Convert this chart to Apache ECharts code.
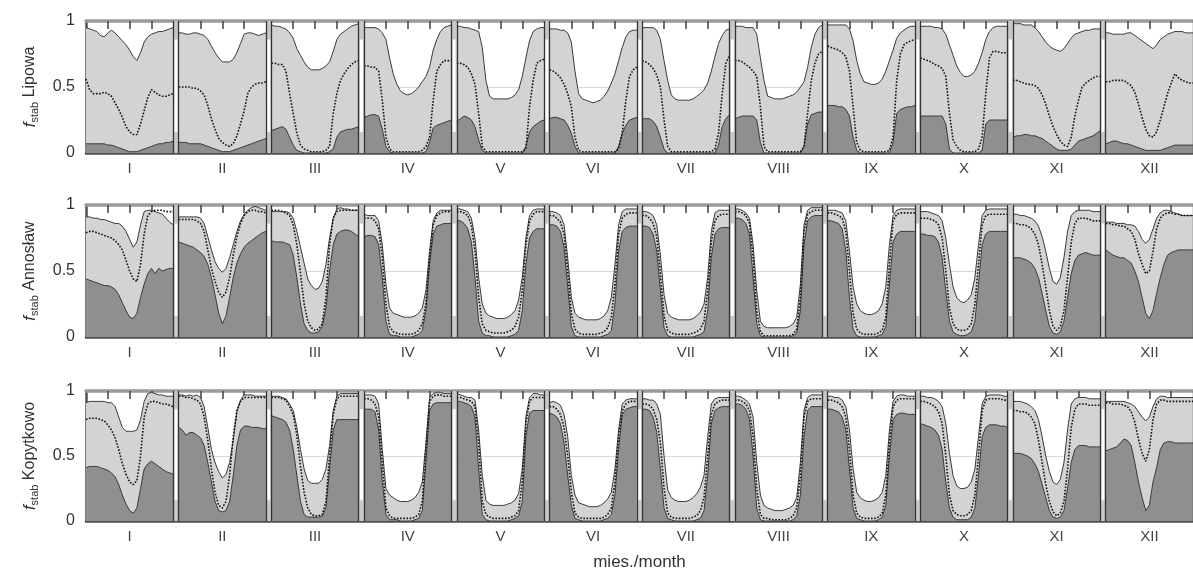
<!DOCTYPE html>
<html>
<head>
<meta charset="utf-8">
<script src="https://cdn.jsdelivr.net/npm/echarts@6/dist/echarts.min.js"></script>
<style>
  html, body { margin: 0; padding: 0; background: #fff; }
  #chart { width: 1193px; height: 572px; }
</style>
</head>
<body>
<div id="chart"></div>
<script>
// Month labels and the hours of the diurnal cycle drawn inside each month block
const months = ['I', 'II', 'III', 'IV', 'V', 'VI', 'VII', 'VIII', 'IX', 'X', 'XI', 'XII'];
const hours = [0, 1, 2, 3, 4, 5, 6, 7, 8, 9, 10, 11, 12, 13, 14, 15, 16, 17, 18, 19, 20, 21, 22, 23, 24];
const hourTicks = [6, 12, 18];
const stations = ['Lipowa', 'Annosław', 'Kopytkowo'];
const yTicks = [0, 0.5, 1];

// Lipowa: upper bound (light band top), dotted curve, lower bound (dark band top)
const lipowaUpper = [
  [.95,.94,.93,.92,.89,.88,.91,.93,.91,.88,.85,.82,.78,.73,.70,.76,.84,.88,.90,.91,.92,.92,.93,.94,.95],
  [.91,.91,.90,.90,.91,.91,.90,.89,.86,.81,.76,.72,.69,.69,.69,.71,.76,.83,.90,.91,.91,.90,.89,.90,.91],
  [.97,.96,.96,.95,.94,.91,.87,.79,.74,.69,.65,.63,.63,.63,.64,.66,.69,.77,.86,.90,.92,.94,.96,.97,.98],
  [.95,.95,.95,.95,.94,.91,.86,.72,.60,.52,.47,.45,.44,.45,.47,.50,.54,.58,.65,.78,.86,.92,.95,.96,.97],
  [.96,.96,.95,.95,.94,.93,.92,.80,.55,.43,.41,.41,.41,.41,.41,.42,.44,.48,.58,.72,.85,.92,.94,.95,.95],
  [.94,.94,.94,.93,.93,.91,.84,.62,.45,.41,.40,.39,.38,.39,.40,.43,.47,.53,.60,.70,.80,.88,.92,.93,.93],
  [.95,.95,.95,.95,.93,.86,.70,.55,.44,.41,.40,.40,.40,.40,.41,.43,.45,.48,.53,.62,.73,.83,.89,.93,.94],
  [.96,.96,.96,.95,.95,.95,.90,.72,.55,.43,.42,.41,.41,.41,.42,.43,.44,.46,.50,.54,.65,.80,.90,.95,.97],
  [.97,.97,.97,.97,.97,.97,.94,.85,.70,.60,.54,.53,.52,.52,.53,.56,.62,.70,.78,.87,.91,.93,.95,.96,.96],
  [.96,.96,.96,.96,.95,.95,.94,.90,.82,.74,.66,.61,.58,.58,.59,.62,.68,.76,.86,.92,.95,.96,.96,.96,.96],
  [.98,.98,.98,.97,.97,.97,.95,.92,.88,.84,.81,.79,.78,.77,.79,.83,.87,.90,.91,.92,.93,.93,.94,.94,.94],
  [.91,.91,.90,.90,.90,.90,.91,.91,.89,.87,.85,.83,.81,.79,.82,.86,.88,.90,.91,.92,.92,.92,.91,.91,.91]
];
const lipowaMid = [
  [.56,.48,.45,.45,.45,.46,.45,.43,.38,.33,.27,.20,.16,.14,.14,.22,.32,.42,.48,.46,.44,.43,.43,.44,.45],
  [.50,.50,.50,.50,.49,.49,.47,.44,.36,.26,.18,.11,.08,.06,.05,.07,.13,.22,.32,.45,.50,.52,.53,.53,.54],
  [.68,.68,.67,.67,.62,.45,.30,.15,.06,.03,.02,.01,.01,.01,.01,.02,.05,.30,.45,.55,.60,.64,.67,.69,.70],
  [.66,.66,.65,.65,.62,.40,.12,.03,.01,.01,.01,.01,.01,.01,.01,.01,.02,.05,.12,.40,.62,.67,.70,.70,.70],
  [.68,.68,.67,.65,.60,.52,.30,.05,.01,.01,.01,.01,.01,.01,.01,.01,.01,.01,.01,.03,.35,.55,.68,.70,.71],
  [.63,.62,.60,.57,.52,.45,.35,.12,.02,.01,.01,.01,.01,.01,.01,.01,.01,.01,.01,.03,.15,.40,.58,.63,.65],
  [.70,.69,.67,.64,.59,.50,.25,.05,.01,.01,.01,.01,.01,.01,.01,.01,.01,.01,.01,.01,.03,.15,.45,.68,.74],
  [.70,.70,.69,.67,.65,.62,.58,.35,.05,.01,.01,.01,.01,.01,.01,.01,.01,.01,.01,.05,.30,.55,.68,.75,.77],
  [.81,.80,.79,.78,.76,.73,.62,.35,.08,.02,.01,.01,.01,.01,.01,.01,.01,.02,.12,.55,.75,.82,.84,.85,.86],
  [.72,.71,.70,.69,.67,.66,.64,.58,.30,.10,.05,.02,.01,.01,.01,.01,.03,.12,.45,.72,.77,.77,.76,.76,.76],
  [.55,.55,.54,.53,.52,.52,.51,.49,.44,.37,.28,.20,.14,.09,.06,.05,.12,.28,.40,.50,.53,.55,.57,.58,.58],
  [.54,.54,.55,.55,.55,.55,.53,.51,.46,.37,.27,.18,.13,.12,.16,.25,.35,.45,.53,.60,.57,.55,.54,.53,.53]
];
const lipowaLower = [
  [.07,.07,.07,.07,.07,.07,.06,.06,.05,.04,.03,.02,.01,.01,.01,.02,.03,.04,.05,.06,.07,.07,.08,.08,.09],
  [.08,.08,.08,.07,.07,.07,.07,.06,.05,.04,.03,.02,.01,.01,.01,.02,.03,.04,.05,.06,.07,.08,.09,.10,.11],
  [.17,.18,.19,.20,.18,.12,.06,.02,.01,0,0,0,0,0,0,0,.01,.03,.12,.16,.17,.18,.18,.19,.20],
  [.27,.28,.29,.29,.28,.18,.05,.01,0,0,0,0,0,0,0,0,0,.01,.08,.19,.21,.22,.23,.24,.25],
  [.24,.26,.28,.27,.25,.20,.10,.02,0,0,0,0,0,0,0,0,0,0,0,.05,.16,.20,.22,.24,.25],
  [.26,.27,.27,.26,.25,.21,.15,.05,0,0,0,0,0,0,0,0,0,0,0,.05,.15,.21,.25,.26,.27],
  [.26,.26,.26,.24,.20,.12,.03,0,0,0,0,0,0,0,0,0,0,0,0,0,0,.06,.20,.26,.29],
  [.26,.27,.28,.28,.28,.28,.25,.08,0,0,0,0,0,0,0,0,0,0,0,.05,.22,.29,.30,.31,.31],
  [.36,.36,.36,.35,.35,.33,.28,.12,.02,0,0,0,0,0,0,0,0,0,.08,.30,.33,.34,.35,.35,.36],
  [.28,.28,.28,.28,.28,.28,.28,.22,.03,0,0,0,0,0,0,0,0,.02,.22,.25,.25,.25,.25,.25,.25],
  [.12,.13,.13,.14,.14,.13,.13,.12,.11,.09,.07,.05,.03,.02,.02,.02,.03,.06,.09,.10,.11,.12,.13,.15,.17],
  [.07,.08,.09,.09,.08,.07,.07,.06,.05,.04,.03,.02,.02,.02,.02,.02,.03,.04,.05,.06,.06,.06,.06,.06,.06]
];

// Annosław
const annoslawUpper = [
  [.91,.91,.90,.90,.89,.89,.88,.87,.86,.86,.84,.80,.74,.68,.72,.85,.95,.96,.96,.95,.94,.93,.90,.87,.85],
  [.91,.91,.91,.91,.91,.91,.90,.86,.76,.66,.57,.52,.49,.52,.60,.70,.80,.88,.93,.96,.98,.99,.98,.97,.96],
  [.95,.95,.95,.95,.95,.94,.90,.80,.68,.56,.44,.39,.36,.37,.42,.55,.75,.90,.97,.98,.97,.97,.96,.96,.96],
  [.93,.92,.92,.92,.88,.70,.40,.22,.18,.17,.16,.15,.15,.15,.16,.18,.22,.35,.65,.88,.94,.96,.96,.96,.96],
  [.97,.97,.96,.95,.90,.75,.45,.25,.18,.16,.15,.14,.14,.14,.15,.17,.20,.28,.45,.75,.92,.96,.97,.97,.97],
  [.95,.95,.94,.92,.85,.60,.30,.18,.15,.14,.13,.13,.13,.13,.14,.16,.20,.30,.55,.85,.95,.97,.97,.97,.97],
  [.95,.95,.94,.92,.85,.62,.32,.18,.15,.14,.13,.13,.13,.13,.14,.16,.19,.25,.45,.80,.94,.96,.96,.96,.96],
  [.97,.97,.96,.94,.90,.70,.35,.12,.08,.07,.07,.07,.07,.07,.07,.08,.10,.15,.40,.85,.96,.98,.98,.98,.98],
  [.96,.96,.96,.95,.94,.88,.65,.38,.25,.20,.18,.17,.17,.18,.20,.25,.38,.70,.92,.96,.97,.97,.97,.97,.97],
  [.95,.95,.95,.94,.93,.92,.88,.75,.55,.38,.30,.27,.26,.28,.32,.45,.70,.92,.96,.97,.97,.97,.97,.97,.97],
  [.93,.93,.92,.92,.91,.90,.88,.84,.76,.65,.52,.42,.40,.45,.60,.80,.92,.95,.96,.96,.96,.96,.95,.95,.95],
  [.87,.87,.87,.86,.86,.86,.85,.85,.84,.80,.74,.71,.74,.82,.90,.94,.96,.96,.95,.94,.93,.92,.92,.92,.92]
];
const annoslawMid = [
  [.79,.80,.80,.79,.78,.77,.76,.75,.73,.70,.66,.58,.50,.44,.42,.55,.78,.92,.95,.96,.96,.96,.95,.95,.95],
  [.89,.89,.89,.89,.89,.88,.86,.80,.66,.52,.42,.34,.30,.34,.45,.62,.76,.86,.92,.95,.96,.96,.95,.95,.94],
  [.96,.96,.96,.95,.94,.92,.85,.70,.48,.25,.12,.07,.05,.06,.10,.30,.70,.90,.95,.96,.96,.96,.96,.96,.96],
  [.90,.90,.90,.88,.82,.60,.25,.08,.04,.03,.02,.02,.02,.02,.03,.05,.10,.25,.60,.85,.92,.94,.95,.95,.95],
  [.95,.95,.94,.92,.85,.65,.30,.10,.05,.04,.03,.03,.03,.03,.04,.05,.08,.15,.35,.70,.88,.93,.95,.95,.95],
  [.92,.92,.90,.87,.78,.50,.18,.06,.03,.02,.02,.02,.02,.02,.03,.04,.07,.15,.40,.78,.90,.93,.94,.94,.94],
  [.92,.92,.90,.86,.76,.48,.16,.05,.03,.02,.02,.02,.02,.02,.03,.04,.06,.12,.35,.72,.88,.92,.93,.93,.93],
  [.95,.95,.94,.92,.86,.60,.20,.04,.01,.01,.01,.01,.01,.01,.01,.01,.02,.06,.30,.80,.93,.95,.96,.96,.96],
  [.94,.94,.93,.92,.90,.80,.50,.18,.06,.03,.02,.02,.02,.02,.03,.05,.15,.55,.88,.93,.94,.94,.94,.94,.94],
  [.90,.90,.90,.89,.88,.85,.75,.50,.22,.10,.06,.05,.05,.06,.10,.25,.55,.85,.92,.93,.93,.93,.93,.93,.93],
  [.86,.86,.85,.85,.84,.82,.78,.70,.55,.38,.20,.08,.05,.08,.20,.45,.72,.86,.90,.90,.90,.89,.88,.88,.88],
  [.86,.86,.85,.85,.84,.84,.82,.80,.74,.63,.55,.48,.50,.65,.82,.90,.93,.94,.94,.93,.93,.92,.92,.92,.92]
];
const annoslawLower = [
  [.44,.43,.42,.41,.40,.39,.39,.38,.36,.32,.26,.20,.15,.14,.18,.30,.40,.48,.52,.48,.52,.50,.51,.52,.52],
  [.72,.71,.70,.69,.68,.66,.64,.61,.55,.45,.32,.18,.10,.16,.30,.45,.56,.63,.68,.71,.73,.75,.77,.79,.80],
  [.73,.72,.72,.72,.71,.70,.62,.45,.25,.10,.05,.03,.03,.04,.08,.22,.50,.70,.78,.80,.81,.81,.80,.78,.76],
  [.76,.77,.77,.76,.70,.45,.12,.02,.01,.01,0,0,0,0,.01,.02,.05,.20,.55,.78,.84,.85,.86,.86,.86],
  [.88,.88,.86,.82,.72,.45,.12,.03,.01,.01,0,0,0,0,0,.01,.02,.05,.20,.55,.75,.80,.82,.82,.82],
  [.85,.85,.84,.80,.68,.38,.08,.01,0,0,0,0,0,0,0,.01,.02,.05,.25,.65,.80,.83,.84,.84,.84],
  [.84,.84,.83,.78,.65,.35,.07,.01,0,0,0,0,0,0,0,.01,.02,.04,.20,.60,.78,.82,.83,.83,.83],
  [.90,.90,.89,.86,.78,.45,.10,.01,0,0,0,0,0,0,0,0,.01,.03,.20,.70,.88,.91,.92,.92,.92],
  [.88,.88,.87,.86,.82,.65,.30,.06,.01,0,0,0,0,0,.01,.02,.08,.40,.72,.78,.80,.80,.80,.80,.80],
  [.78,.78,.77,.77,.76,.72,.60,.35,.12,.04,.02,.01,.01,.02,.04,.12,.40,.70,.78,.80,.80,.80,.80,.80,.80],
  [.60,.60,.60,.59,.58,.56,.52,.45,.33,.20,.08,.03,.02,.04,.12,.30,.48,.58,.62,.63,.64,.63,.62,.62,.62],
  [.66,.64,.62,.61,.60,.60,.58,.56,.50,.42,.30,.18,.14,.20,.33,.45,.55,.62,.64,.65,.66,.66,.66,.66,.66]
];

// Kopytkowo
const kopytkowoUpper = [
  [.91,.92,.92,.92,.92,.92,.91,.91,.88,.80,.72,.69,.69,.69,.70,.78,.92,.98,.99,.98,.97,.97,.96,.96,.96],
  [.97,.97,.96,.97,.96,.97,.95,.88,.72,.55,.45,.38,.33,.36,.45,.62,.84,.93,.97,.97,.97,.96,.96,.96,.96],
  [.96,.96,.96,.95,.94,.90,.85,.72,.55,.40,.31,.29,.29,.29,.32,.40,.58,.85,.96,.98,.98,.98,.98,.98,.98],
  [.97,.97,.97,.96,.90,.55,.25,.20,.18,.16,.15,.15,.15,.16,.18,.22,.30,.60,.95,.98,.99,.99,.98,.98,.98],
  [.98,.97,.96,.95,.95,.93,.70,.35,.16,.13,.12,.12,.12,.12,.13,.14,.16,.21,.40,.80,.95,.98,.98,.97,.97],
  [.91,.92,.91,.89,.82,.65,.35,.20,.14,.13,.12,.11,.11,.11,.12,.14,.17,.22,.40,.70,.90,.93,.94,.94,.94],
  [.94,.94,.93,.93,.90,.82,.50,.24,.18,.16,.15,.15,.15,.16,.18,.21,.26,.35,.65,.90,.94,.95,.95,.95,.95],
  [.96,.96,.95,.93,.90,.80,.45,.20,.12,.10,.09,.08,.08,.08,.09,.10,.12,.18,.45,.85,.95,.97,.97,.97,.97],
  [.96,.96,.95,.95,.93,.88,.70,.40,.22,.18,.16,.15,.15,.16,.18,.22,.35,.70,.92,.96,.97,.97,.96,.96,.96],
  [.96,.96,.95,.95,.94,.92,.88,.75,.52,.35,.27,.25,.25,.26,.30,.40,.65,.90,.96,.97,.97,.97,.97,.96,.96],
  [.92,.92,.92,.91,.90,.88,.85,.78,.65,.50,.38,.30,.28,.32,.45,.70,.90,.94,.95,.95,.95,.94,.94,.94,.94],
  [.92,.92,.92,.92,.92,.92,.91,.90,.88,.84,.80,.77,.80,.88,.94,.96,.96,.95,.95,.95,.95,.95,.95,.95,.95]
];
const kopytkowoMid = [
  [.78,.79,.79,.79,.78,.77,.74,.70,.64,.55,.44,.36,.30,.28,.31,.50,.80,.90,.92,.92,.91,.90,.90,.89,.88],
  [.96,.96,.95,.95,.94,.93,.90,.80,.62,.40,.22,.12,.10,.15,.35,.65,.85,.92,.95,.95,.95,.95,.95,.95,.95],
  [.95,.95,.95,.94,.93,.88,.82,.66,.42,.22,.10,.05,.04,.04,.05,.15,.50,.82,.94,.96,.96,.96,.96,.96,.96],
  [.94,.94,.93,.90,.80,.45,.10,.04,.02,.02,.02,.02,.02,.02,.03,.05,.15,.55,.92,.96,.97,.97,.96,.96,.96],
  [.95,.95,.94,.93,.92,.88,.60,.15,.05,.03,.02,.02,.02,.02,.02,.03,.04,.08,.30,.75,.92,.95,.95,.95,.95],
  [.88,.88,.86,.82,.72,.50,.22,.06,.03,.02,.02,.02,.02,.02,.02,.03,.05,.10,.30,.65,.85,.90,.92,.92,.92],
  [.90,.90,.89,.86,.78,.60,.25,.06,.03,.02,.02,.02,.02,.02,.03,.04,.08,.18,.50,.82,.90,.92,.93,.93,.93],
  [.93,.93,.92,.90,.85,.65,.25,.05,.02,.02,.01,.01,.01,.01,.01,.02,.04,.10,.35,.80,.92,.94,.94,.94,.94],
  [.93,.93,.92,.91,.88,.80,.55,.20,.06,.03,.02,.02,.02,.02,.03,.06,.20,.60,.88,.93,.94,.94,.94,.94,.94],
  [.92,.92,.91,.90,.88,.84,.75,.50,.20,.08,.05,.04,.04,.05,.08,.20,.50,.85,.93,.94,.94,.94,.94,.93,.93],
  [.85,.85,.84,.84,.83,.80,.75,.62,.45,.28,.15,.07,.04,.06,.15,.40,.72,.86,.90,.90,.90,.89,.89,.89,.89],
  [.91,.91,.90,.90,.90,.89,.88,.84,.76,.63,.52,.46,.55,.78,.90,.93,.93,.92,.92,.92,.92,.92,.92,.92,.92]
];
const kopytkowoLower = [
  [.41,.42,.42,.42,.41,.40,.39,.37,.34,.28,.20,.13,.08,.06,.10,.25,.40,.44,.46,.44,.42,.40,.38,.37,.36],
  [.72,.70,.66,.68,.68,.66,.64,.58,.45,.30,.15,.08,.07,.08,.15,.35,.58,.70,.73,.73,.72,.72,.72,.71,.71],
  [.81,.80,.79,.78,.76,.70,.55,.35,.15,.05,.03,.03,.03,.03,.04,.10,.40,.70,.78,.78,.78,.78,.78,.78,.78],
  [.86,.86,.86,.84,.70,.30,.05,.01,.01,.01,0,0,0,0,.01,.02,.08,.45,.85,.90,.91,.91,.91,.91,.91],
  [.92,.92,.91,.90,.88,.80,.40,.05,.01,0,0,0,0,0,0,.01,.02,.04,.15,.65,.83,.85,.85,.85,.85],
  [.83,.82,.80,.75,.60,.35,.12,.02,.01,0,0,0,0,0,0,.01,.02,.05,.20,.55,.82,.86,.87,.88,.88],
  [.86,.86,.85,.80,.68,.40,.10,.02,.01,0,0,0,0,0,0,.01,.02,.08,.35,.75,.85,.87,.88,.88,.88],
  [.90,.90,.89,.86,.78,.50,.10,.01,0,0,0,0,0,0,0,0,.01,.04,.20,.65,.85,.88,.88,.88,.88],
  [.86,.86,.85,.84,.80,.70,.40,.10,.02,.01,0,0,0,0,.01,.03,.12,.50,.78,.82,.83,.83,.82,.82,.82],
  [.75,.74,.73,.72,.70,.66,.55,.30,.10,.03,.01,.01,.01,.01,.03,.10,.35,.65,.72,.74,.74,.74,.73,.73,.72],
  [.52,.52,.52,.51,.50,.48,.44,.38,.28,.18,.08,.03,.02,.03,.08,.25,.45,.55,.58,.58,.58,.57,.57,.57,.57],
  [.54,.55,.56,.57,.60,.63,.62,.58,.45,.30,.18,.08,.12,.30,.41,.55,.60,.61,.61,.60,.60,.60,.60,.60,.60]
];

const panels = [
  { upper: lipowaUpper, mid: lipowaMid, lower: lipowaLower, top: 21, height: 132 },
  { upper: annoslawUpper, mid: annoslawMid, lower: annoslawLower, top: 205, height: 132 },
  { upper: kopytkowoUpper, mid: kopytkowoMid, lower: kopytkowoLower, top: 391, height: 133 }
];

// Each month block is 24 h wide, separated by a short gap on the shared x scale
const GAP = 1.5;
const PERIOD = 24 + GAP;
const XMAX = 11 * PERIOD + 24;
const FONT = '"Liberation Sans", Arial, sans-serif';

const LIGHT = '#d3d3d3';
const DARK = '#8f8f8f';
const EDGE = '#3a3a3a';

function curve(rows) {
  const out = [];
  rows.forEach((row, k) => {
    row.forEach((v, i) => out.push([k * PERIOD + hours[i], v]));
    out.push([k * PERIOD + 24 + GAP / 2, '-']);
  });
  return out;
}

const tickVals = [];
months.forEach((m, k) => hourTicks.forEach(h => tickVals.push(k * PERIOD + h)));
const labelVals = months.map((m, k) => k * PERIOD + 12);

const grids = [], xAxes = [], yAxes = [], series = [];

panels.forEach((p, i) => {
  grids.push({ left: 86, right: -4, top: p.top, height: p.height, containLabel: false });

  xAxes.push({
    type: 'value', gridIndex: i, position: 'bottom', min: 0, max: XMAX,
    axisLine: { show: true, lineStyle: { color: '#505050', width: 2.5 } },
    axisTick: { show: true, inside: true, length: 7, customValues: tickVals,
      lineStyle: { color: '#404040', width: 1.5 } },
    axisLabel: { show: true, customValues: labelVals, margin: 8,
      fontSize: 15, color: '#444', fontFamily: FONT,
      formatter: v => months[Math.round((v - 12) / PERIOD)] },
    splitLine: { show: false },
    name: i === 2 ? 'mies./month' : '',
    nameLocation: 'middle', nameGap: 33,
    nameTextStyle: { fontSize: 17, color: '#333', fontFamily: FONT }
  });
  xAxes.push({
    type: 'value', gridIndex: i, position: 'top', min: 0, max: XMAX,
    axisLine: { show: true, lineStyle: { color: '#9a9a9a', width: 3.5 } },
    axisTick: { show: true, inside: true, length: 8, customValues: tickVals,
      lineStyle: { color: '#404040', width: 1.5 } },
    axisLabel: { show: false },
    splitLine: { show: false }
  });

  yAxes.push({
    type: 'value', gridIndex: i, min: 0, max: 1, interval: 0.5,
    axisLine: { show: true, lineStyle: { color: '#505050', width: 2.5 } },
    axisTick: { show: false },
    axisLabel: { show: true, customValues: yTicks, margin: 11, fontSize: 16, color: '#333', fontFamily: FONT },
    splitLine: { show: true, lineStyle: { color: '#d9d9d9', width: 1 } },
    name: '{f|f}{s|stab} ' + stations[i],
    nameLocation: 'middle', nameRotate: 90, nameGap: 46,
    nameTextStyle: {
      fontSize: 16, color: '#333', fontFamily: FONT,
      rich: {
        f: { fontSize: 17, fontStyle: 'italic', color: '#333', fontFamily: FONT },
        s: { fontSize: 11, color: '#333', fontFamily: FONT, padding: [9, 0, 0, 0] }
      }
    }
  });

  const xi = i * 2;
  const gapAreas = [];
  const borders = [];
  months.forEach((m, k) => {
    const start = k * PERIOD;
    if (k > 0) borders.push({ xAxis: start });
    borders.push({ xAxis: start + 24 });
    if (k < 11) {
      // grey gap between month blocks with a white strip in its middle
      gapAreas.push([{ xAxis: start + 24 }, { xAxis: start + PERIOD }]);
      gapAreas.push([
        { xAxis: start + 24 + GAP * 0.22, yAxis: 0.16, itemStyle: { color: '#ffffff' } },
        { xAxis: start + 24 + GAP * 0.78, yAxis: 0.86 }
      ]);
    }
  });

  series.push({
    type: 'line', xAxisIndex: xi, yAxisIndex: i, data: curve(p.upper),
    symbol: 'none', connectNulls: false, z: 2,
    lineStyle: { color: EDGE, width: 1 },
    areaStyle: { color: LIGHT, opacity: 1 },
    markArea: { silent: true, itemStyle: { color: '#c8c8c8' }, data: gapAreas }
  });
  series.push({
    type: 'line', xAxisIndex: xi, yAxisIndex: i, data: curve(p.lower),
    symbol: 'none', connectNulls: false, z: 3,
    lineStyle: { color: EDGE, width: 1 },
    areaStyle: { color: DARK, opacity: 1 }
  });
  series.push({
    type: 'line', xAxisIndex: xi, yAxisIndex: i, data: curve(p.mid),
    symbol: 'none', connectNulls: false, z: 4,
    lineStyle: { color: '#111', width: 1.6, type: 'dotted' },
    markLine: {
      silent: true, symbol: ['none', 'none'], label: { show: false },
      lineStyle: { color: '#333', width: 1.3, type: 'solid' },
      data: borders
    }
  });
});

const chart = echarts.init(document.getElementById('chart'), null, { renderer: 'canvas' });
chart.setOption({
  animation: false,
  backgroundColor: '#fff',
  textStyle: { fontFamily: FONT },
  grid: grids,
  xAxis: xAxes,
  yAxis: yAxes,
  series: series
});
</script>
</body>
</html>
